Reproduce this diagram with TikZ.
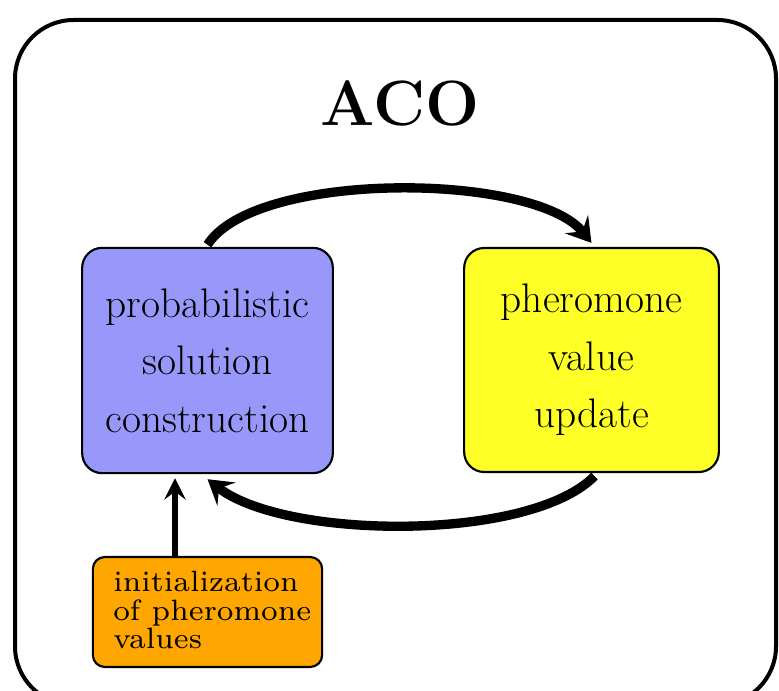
\documentclass[tikz,border=0pt]{standalone}
\usetikzlibrary{arrows.meta,calc}
\definecolor{pblue}{RGB}{152,152,250}
\definecolor{pyellow}{RGB}{255,255,40}
\definecolor{porange}{RGB}{255,166,0}
\begin{document}
\begin{tikzpicture}[x=0.75pt,y=-0.75pt,
  frame/.style={draw=black,line width=3pt,rounded corners=44pt},
  stagebox/.style={draw=black,line width=1.6pt,rounded corners=15pt,inner sep=0pt,align=center,
    font=\fontsize{31}{43}\selectfont},
  initbox/.style={draw=black,line width=1.6pt,rounded corners=9pt,inner sep=0pt},
  bigarrow/.style={line width=7pt,-{Stealth[length=18pt,width=22pt,inset=7pt]}},
  uparrow/.style={line width=4.5pt,-{Stealth[length=16pt,width=16pt,inset=6pt]}}]
\useasboundingbox (0,0) rectangle (779,691);
\fill[white] (0,0) rectangle (779,691);
\draw[frame] (15,20) rectangle (776,705);
\node[font=\bfseries\fontsize{48}{54}\selectfont] (title) at (400,103) {ACO};
\node[stagebox,fill=pblue,minimum width=188pt,minimum height=169pt] (b) at (207.5,360.5)
  {probabilistic\\solution\\construction};
\node[stagebox,fill=pyellow,minimum width=191pt,minimum height=168pt] (y) at (591.5,360)
  {pheromone\\value\\update};
\node[initbox,fill=porange,minimum width=172pt,minimum height=82.5pt] (o) at (207.5,612) {};
\node[anchor=west,align=left,inner sep=0pt] (ot) at (113,614)
  {\scalebox{3.15}{\fontsize{7}{6.5}\selectfont\begin{tabular}{@{}l@{}}initialization\\of pheromone\\values\end{tabular}}};
\coordinate (v) at (175,0);
\draw[bigarrow] ($(b.north)+(0,-2)$) .. controls (255,170) and (535,172) .. ($(y.north)+(0,-4)$);
\draw[bigarrow] ($(y.south)+(3,3)$) .. controls (530,542) and (285,540) .. ($(b.south)+(0,5)$);
\draw[uparrow] (o.north -| v) -- ($(b.south -| v)+(0,4)$);
\end{tikzpicture}
\end{document}
